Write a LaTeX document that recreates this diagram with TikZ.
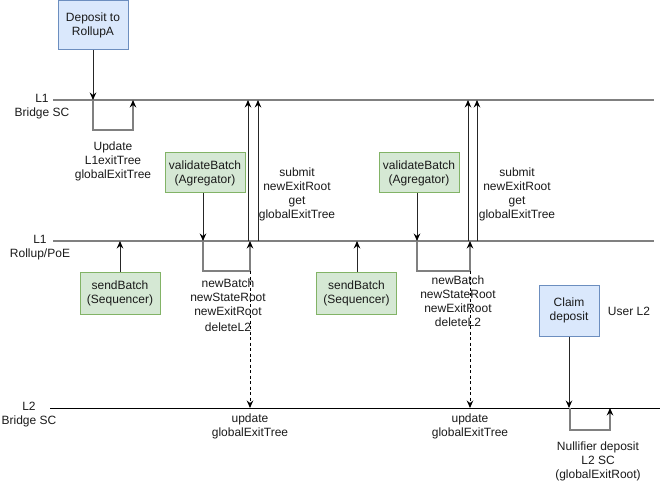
\documentclass[tikz,border=0pt]{standalone}
\usepackage{fontspec}
\setmainfont{Liberation Sans}
\usetikzlibrary{arrows.meta}
\definecolor{bluefill}{HTML}{DAE8FC}
\definecolor{bluedraw}{HTML}{6C8EBF}
\definecolor{greenfill}{HTML}{D5E8D4}
\definecolor{greendraw}{HTML}{82B366}
\definecolor{lanegray}{HTML}{808080}
\definecolor{txt}{HTML}{1A1A1A}
\begin{document}
\begin{tikzpicture}[x=1pt,y=-1pt,
  font=\fontsize{12}{14}\selectfont, text=txt,
  bluebox/.style={draw=bluedraw, fill=bluefill, line width=1pt, align=center, inner sep=0pt},
  greenbox/.style={draw=greendraw, fill=greenfill, line width=1pt, align=center, inner sep=0pt, minimum width=80pt},
  lane/.style={draw=lanegray, line width=1.6pt},
  lanel2/.style={draw=black, line width=1pt},
  tip/.style={-{Stealth[length=7.5pt,width=6.5pt,inset=2.5pt,color=black]}},
  arr/.style={tip, draw=black!85, line width=1pt},
  bracket/.style={tip, draw=lanegray, line width=1.3pt},
  dasharr/.style={tip, draw=black, line width=1pt, dash pattern=on 3pt off 2.5pt},
  lbl/.style={align=center, inner sep=0pt}
]
\useasboundingbox (0,0) rectangle (661,481);

% lanes
\coordinate (l1bS) at (53,100);  \coordinate (l1bE) at (654,100);
\coordinate (l1rS) at (53,241);  \coordinate (l1rE) at (654,241);
\coordinate (l2S) at (50,408);   \coordinate (l2E) at (660,408);
\draw[lane] (l1bS) -- (l1bE);
\draw[lane] (l1rS) -- (l1rE);
\draw[lanel2] (l2S) -- (l2E);

\node[lbl] (lab1) at (42,107) {L1\\Bridge SC};
\node[lbl] (lab2) at (40,248) {L1\\Rollup/PoE};
\node[lbl] (lab3) at (29,415) {L2\\Bridge SC};

% boxes
\node[bluebox, minimum width=70pt, minimum height=49pt] (dep) at (93,25.5) {Deposit to\\RollupA};
\node[greenbox, minimum height=40pt] (val1) at (205,173) {validateBatch\\(Agregator)};
\node[greenbox, minimum height=40pt] (val2) at (419,173) {validateBatch\\(Agregator)};
\node[greenbox, minimum height=42pt] (send1) at (120,293) {sendBatch\\(Sequencer)};
\node[greenbox, minimum height=42pt] (send2) at (356.5,293) {sendBatch\\(Sequencer)};
\node[bluebox, minimum width=60pt, minimum height=51pt] (claim) at (569,310.5) {Claim\\deposit};
\node[lbl] (user) at (629,311) {User L2};

% points on lanes
\coordinate (depIn) at (93,100);
\coordinate (b1r) at (133,100);
\coordinate (v1In) at (203,241);
\coordinate (b2r) at (250,241);
\coordinate (v2In) at (417,241);
\coordinate (b3r) at (470,241);
\coordinate (s1Out) at (120,241);
\coordinate (s2Out) at (357,241);
\coordinate (cIn) at (569,408);
\coordinate (b4l) at (570,408);
\coordinate (b4r) at (610,408);
\coordinate (up1a) at (248,241); \coordinate (up1aT) at (248,100);
\coordinate (up1b) at (258,241); \coordinate (up1bT) at (258,100);
\coordinate (up2a) at (468,241); \coordinate (up2aT) at (468,100);
\coordinate (up2b) at (477,241); \coordinate (up2bT) at (477,100);
\coordinate (d1T) at (250,271); \coordinate (d1B) at (250,408);
\coordinate (d2T) at (470,271); \coordinate (d2B) at (470,408);

% connectors
\draw[arr] (dep.south -| depIn) -- (depIn);
\draw[bracket] (depIn) -- ++(0,30) -| (b1r);
\draw[arr] (val1.south -| v1In) -- (v1In);
\draw[bracket] (v1In) -- ++(0,30) -| (b2r);
\draw[arr] (val2.south -| v2In) -- (v2In);
\draw[bracket] (v2In) -- ++(0,30) -| (b3r);
\draw[arr] (send1.north -| s1Out) -- (s1Out);
\draw[arr] (send2.north -| s2Out) -- (s2Out);
\draw[arr] (up1a) -- (up1aT);
\draw[arr] (up1b) -- (up1bT);
\draw[arr] (up2a) -- (up2aT);
\draw[arr] (up2b) -- (up2bT);
\draw[dasharr] (d1T) -- (d1B);
\draw[dasharr] (d2T) -- (d2B);
\draw[arr] (claim.south -| cIn) -- (cIn);
\draw[bracket] (b4l) -- ++(0,22) -| (b4r);

% texts
\node[lbl] (t1) at (113,161) {Update\\L1exitTree\\globalExitTree};
\node[lbl] (t2) at (297,179) {submit\\newExitRoot};
\node[lbl] (t3) at (297,209) {get\\globalExitTree};
\node[lbl] (t4) at (517,179) {submit\\newExitRoot};
\node[lbl] (t5) at (517,209) {get\\globalExitTree};
\node[lbl] (t6) at (228,305) {newBatch\\newStateRoot\\newExitRoot\\[2pt]deleteL2};
\node[lbl] (t7) at (458,301) {newBatch\\newStateRoot\\newExitRoot\\deleteL2};
\node[lbl] (t8) at (250,426) {update\\globalExitTree};
\node[lbl] (t9) at (470,426) {update\\globalExitTree};
\node[lbl] (t10) at (598,461) {Nullifier deposit\\L2 SC\\(globalExitRoot)};
\end{tikzpicture}
\end{document}
